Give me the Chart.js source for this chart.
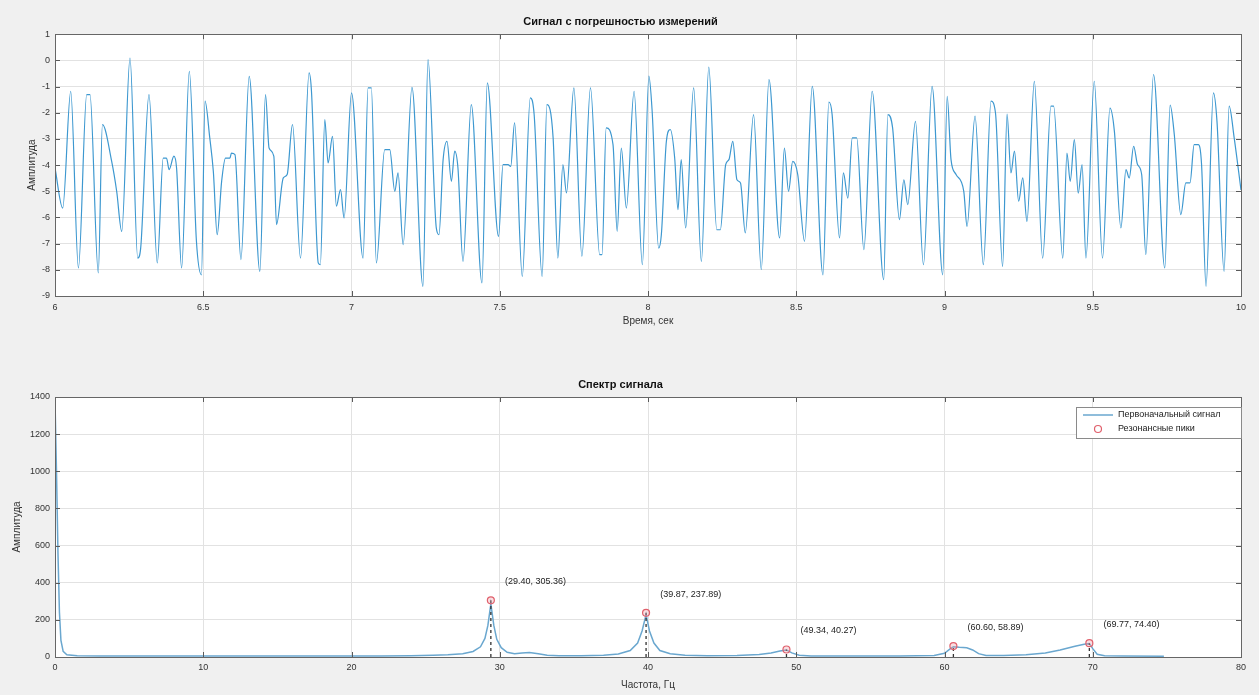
<!DOCTYPE html>
<html><head><meta charset="utf-8">
<script src="https://cdn.jsdelivr.net/npm/chart.js@4.4.1/dist/chart.umd.min.js"></script>
<style>
html,body{margin:0;padding:0;background:#f0f0f0;width:1259px;height:695px;overflow:hidden;}
#c1{position:absolute;left:0;top:0;}
#c2{position:absolute;left:0;top:350px;}
</style></head><body>
<canvas id="c1" width="1259" height="340"></canvas>
<canvas id="c2" width="1259" height="345"></canvas>
<script>
// ---------- data: time signal ----------
const timeSec = [
6.000,6.026,6.053,6.079,6.107,6.118,6.146,6.160,6.191,6.208,6.225,6.253,6.279,6.289,6.317,6.345,6.365,6.376,6.385,6.401,6.410,6.427,6.453,6.477,6.494,6.506,6.522,6.534,6.547,6.562,6.575,6.590,6.595,6.607,6.627,6.655,6.691,6.710,6.722,6.738,6.747,6.770,6.783,6.801,6.828,6.857,6.865,6.888,6.895,6.910,6.921,6.936,6.949,6.963,6.975,
7.000,7.039,7.056,7.067,7.084,7.112,7.129,7.146,7.157,7.174,7.204,7.241,7.258,7.286,7.295,7.309,7.322,7.337,7.348,7.359,7.376,7.404,7.440,7.458,7.496,7.511,7.528,7.537,7.550,7.576,7.603,7.616,7.643,7.659,7.680,7.696,7.713,7.725,7.750,7.777,7.806,7.837,7.845,7.859,7.882,7.896,7.910,7.927,7.953,7.981,
8.003,8.014,8.036,8.045,8.062,8.075,8.090,8.101,8.112,8.127,8.154,8.180,8.205,8.232,8.244,8.262,8.273,8.286,8.300,8.312,8.328,8.356,8.382,8.408,8.444,8.460,8.474,8.488,8.505,8.528,8.554,8.590,8.610,8.621,8.646,8.659,8.674,8.689,8.704,8.728,8.756,8.795,8.809,8.825,8.848,8.863,8.876,8.902,8.929,8.958,8.994,
9.009,9.022,9.039,9.065,9.076,9.103,9.131,9.157,9.172,9.196,9.211,9.224,9.236,9.250,9.264,9.278,9.303,9.331,9.359,9.368,9.399,9.413,9.424,9.438,9.451,9.464,9.477,9.505,9.533,9.558,9.573,9.595,9.612,9.623,9.638,9.651,9.665,9.679,9.705,9.743,9.761,9.775,9.797,9.814,9.828,9.842,9.856,9.867,9.882,9.907,9.919,9.943,9.960,9.977,10.000];
const signalAmp = [
-4.11,-5.64,-1.18,-7.93,-1.31,-1.31,-8.12,-2.45,-3.85,-5.00,-6.53,0.09,-7.55,-7.17,-1.31,-7.74,-3.73,-3.73,-4.17,-3.66,-4.11,-7.93,-0.42,-6.91,-8.19,-1.56,-2.96,-4.24,-6.66,-4.62,-3.73,-3.73,-3.54,-3.60,-7.61,-0.61,-8.06,-1.31,-3.35,-3.66,-6.27,-4.49,-4.36,-2.45,-7.55,-0.48,-1.18,-7.74,-7.80,-2.26,-3.92,-2.90,-5.57,-4.94,-6.02,
-1.24,-7.55,-1.05,-1.05,-7.74,-3.41,-3.41,-5.00,-4.30,-7.04,-1.03,-8.63,0.03,-6.40,-6.66,-3.79,-3.09,-4.62,-3.47,-4.11,-7.68,-1.69,-8.50,-0.86,-6.72,-3.98,-3.98,-4.05,-2.39,-8.25,-1.43,-2.07,-8.25,-1.69,-2.96,-7.55,-3.98,-5.06,-1.05,-7.48,-1.05,-7.42,-7.42,-2.58,-3.22,-6.53,-3.35,-5.64,-1.18,-7.80,
-0.60,-1.94,-7.17,-6.66,-3.09,-2.64,-3.73,-5.70,-3.79,-6.40,-1.05,-7.68,-0.26,-6.47,-6.47,-3.98,-3.79,-3.09,-4.56,-4.68,-6.59,-2.07,-7.99,-0.73,-6.78,-3.35,-5.00,-3.86,-4.36,-6.91,-0.99,-8.19,-1.59,-2.07,-6.78,-4.30,-5.26,-2.96,-2.96,-7.23,-1.18,-8.38,-2.07,-2.58,-6.08,-4.56,-5.51,-2.33,-7.80,-0.99,-8.19,
-1.37,-3.79,-4.36,-5.00,-6.34,-2.13,-7.80,-1.56,-2.01,-7.87,-2.05,-4.30,-3.47,-5.38,-4.49,-6.15,-0.80,-7.55,-1.75,-1.75,-7.55,-3.54,-4.62,-3.03,-5.07,-3.98,-7.55,-0.80,-7.55,-1.82,-2.71,-6.40,-4.17,-4.49,-3.28,-3.98,-4.36,-7.42,-0.54,-7.93,-1.71,-2.83,-5.89,-4.68,-4.68,-3.22,-3.22,-3.98,-8.63,-1.24,-2.33,-8.06,-1.75,-2.96,-4.95];

// ---------- data: spectrum ----------
const specFreq = [0,0.1,0.2,0.3,0.4,0.55,0.8,1.5,3,5,8,10,13,16,19,22,24,25.5,26.5,27.5,28.2,28.7,29.0,29.2,29.4,29.6,29.8,30.1,30.5,31.0,31.5,32.0,32.6,33.2,34,35.5,37,38,38.8,39.3,39.6,39.87,40.1,40.4,40.8,41.5,42.5,44,46,47.5,48.3,48.9,49.34,49.7,50.2,51,54,57,59.3,60.0,60.4,60.6,61.0,61.5,61.9,62.3,62.8,64,65.5,66.8,67.8,68.8,69.5,69.77,70.0,70.3,70.8,72,74.8];
const specAmp  = [1380,1000,560,240,90,30,12,7,5,6,5,5,6,5,6,6,7,9,12,18,30,55,100,170,285,170,95,50,25,18,22,24,18,10,7,7,10,16,35,75,140,228,140,75,35,18,10,7,8,14,22,32,38,22,10,6,5,6,8,20,45,55,52,50,38,18,8,8,12,22,38,58,70,72,45,15,7,5,4];
const peakFreq = [29.40,39.87,49.34,60.60,69.77];
const peakAmp  = [305.36,237.89,40.27,58.89,74.40];

const seriesNames = ['Первоначальный сигнал','Резонансные пики'];
const FONT = "'Liberation Sans', Arial, Helvetica, sans-serif";
const TXT = '#333';

// ---------- plugins ----------
const frame = {
  id:'frame',
  beforeDraw(chart){
    const {ctx, chartArea:a} = chart;
    ctx.save(); ctx.fillStyle='#ffffff';
    ctx.fillRect(a.left,a.top,a.right-a.left,a.bottom-a.top); ctx.restore();
  },
  afterDraw(chart){
    const {ctx, chartArea:a, scales} = chart;
    ctx.save();
    ctx.strokeStyle='#5a5a5a'; ctx.lineWidth=1;
    ctx.beginPath();
    scales.x.ticks.forEach(t=>{
      const px = Math.round(scales.x.getPixelForValue(t.value))+0.5;
      ctx.moveTo(px,a.bottom); ctx.lineTo(px,a.bottom-5);
      ctx.moveTo(px,a.top); ctx.lineTo(px,a.top+5);
    });
    scales.y.ticks.forEach(t=>{
      const py = Math.round(scales.y.getPixelForValue(t.value))+0.5;
      ctx.moveTo(a.left,py); ctx.lineTo(a.left+5,py);
      ctx.moveTo(a.right,py); ctx.lineTo(a.right-5,py);
    });
    ctx.stroke();
    ctx.strokeStyle='#666'; ctx.lineWidth=1;
    ctx.strokeRect(Math.round(a.left)+0.5,Math.round(a.top)+0.5,Math.round(a.right-a.left),Math.round(a.bottom-a.top));
    ctx.restore();
  }
};

const peakLabels = {
  id:'peakLabels',
  afterDatasetsDraw(chart){
    const {ctx, scales:{x,y}} = chart;
    ctx.save();
    ctx.font = '9px '+FONT; ctx.fillStyle='#222';
    ctx.textAlign='left'; ctx.textBaseline='middle';
    peakFreq.forEach((f,i)=>{
      const a = peakAmp[i];
      ctx.fillText('('+f.toFixed(2)+', '+a.toFixed(2)+')', x.getPixelForValue(f+0.95), y.getPixelForValue(a+100));
    });
    ctx.restore();
  }
};

const boxLegend = {
  id:'boxLegend',
  afterDraw(chart){
    const {ctx, chartArea:a} = chart;
    const w=165, h=31, r=a.right, t=a.top+10, l=r-w;
    ctx.save();
    ctx.fillStyle='#fff'; ctx.fillRect(l,t,w,h);
    ctx.strokeStyle='#8a8a8a'; ctx.lineWidth=1;
    ctx.strokeRect(Math.round(l)+0.5,Math.round(t)+0.5,w,h);
    const ds = chart.data.datasets;
    const spec = ds.find(d=>d.label===seriesNames[0]);
    const pk = ds.find(d=>d.label===seriesNames[1]);
    // line sample
    ctx.strokeStyle=spec.borderColor; ctx.lineWidth=1.5;
    ctx.beginPath(); ctx.moveTo(l+7,t+8); ctx.lineTo(l+37,t+8); ctx.stroke();
    // marker sample
    ctx.strokeStyle=pk.pointBorderColor; ctx.lineWidth=1.2;
    ctx.beginPath(); ctx.arc(l+22,t+22,3.5,0,Math.PI*2); ctx.stroke();
    ctx.font='9px '+FONT; ctx.fillStyle='#222'; ctx.textBaseline='middle'; ctx.textAlign='left';
    ctx.fillText(spec.label,l+42,t+8);
    ctx.fillText(pk.label,l+42,t+22);
    ctx.restore();
  }
};

const tickFont = {family:FONT,size:9};
const titleFont = {family:FONT,size:11,weight:'bold'};
const axTitleFont = {family:FONT,size:10};
const gridCfg = {color:'#e2e2e2', drawTicks:false};

// ---------- top chart ----------
new Chart(document.getElementById('c1'),{
  type:'line',
  data:{datasets:[{
    label:'Сигнал',
    data: timeSec.map((t,i)=>({x:t,y:signalAmp[i]})),
    borderColor:'#3d98d0', borderWidth:1.2, pointRadius:0,
    cubicInterpolationMode:'monotone', fill:false
  }]},
  options:{
    responsive:false, devicePixelRatio:1, animation:false,
    layout:{padding:{left:0,right:18,top:0,bottom:0}},
    plugins:{
      legend:{display:false}, tooltip:{enabled:false},
      title:{display:true,text:'Сигнал с погрешностью измерений',font:titleFont,color:'#111',padding:{top:15,bottom:6}}
    },
    scales:{
      x:{type:'linear',min:6,max:10,
         ticks:{stepSize:0.5,font:tickFont,color:TXT,padding:6,maxRotation:0,callback:v=>String(+(+v).toFixed(2))},
         grid:gridCfg, border:{display:false},
         title:{display:true,text:'Время, сек',font:axTitleFont,color:TXT,padding:{top:0,bottom:13}},
         afterFit:s=>{s.height=44;}},
      y:{min:-9,max:1,
         ticks:{stepSize:1,font:tickFont,color:TXT,padding:5,callback:v=>String(v)},
         grid:gridCfg, border:{display:false},
         title:{display:true,text:'Амплитуда',font:axTitleFont,color:TXT,padding:{top:26,bottom:0}},
         afterFit:s=>{s.width=55;}}
    }
  },
  plugins:[frame]
});

// ---------- bottom chart ----------
const stemData = [];
peakFreq.forEach((f,i)=>{ stemData.push({x:f,y:0},{x:f,y:peakAmp[i]},{x:f,y:null}); });

new Chart(document.getElementById('c2'),{
  type:'line',
  data:{datasets:[
    {label:seriesNames[1], data:peakFreq.map((f,i)=>({x:f,y:peakAmp[i]})),
     showLine:false, pointRadius:3.5, pointStyle:'circle', pointBorderColor:'#e0606c',
     pointBackgroundColor:'rgba(240,160,170,0.35)', pointBorderWidth:1.2, borderColor:'#e0606c', order:0},
    {label:'stems', data:stemData, borderColor:'#333', borderWidth:1.3, borderDash:[3,3],
     pointRadius:0, spanGaps:false, order:1},
    {label:seriesNames[0], data:specFreq.map((f,i)=>({x:f,y:specAmp[i]})),
     borderColor:'#6aa7cf', borderWidth:1.5, pointRadius:0, fill:false, order:2}
  ]},
  options:{
    responsive:false, devicePixelRatio:1, animation:false,
    layout:{padding:{left:0,right:18,top:0,bottom:0}},
    plugins:{
      legend:{display:false}, tooltip:{enabled:false},
      title:{display:true,text:'Спектр сигнала',font:titleFont,color:'#111',padding:{top:28,bottom:5.8}}
    },
    scales:{
      x:{type:'linear',min:0,max:80,
         ticks:{stepSize:10,font:tickFont,color:TXT,padding:5.5,maxRotation:0,callback:v=>String(v)},
         grid:gridCfg, border:{display:false},
         title:{display:true,text:'Частота, Гц',font:axTitleFont,color:TXT,padding:{top:0,bottom:4}},
         afterFit:s=>{s.height=38;}},
      y:{min:0,max:1400,
         ticks:{stepSize:200,font:tickFont,color:TXT,padding:5,callback:v=>String(v)},
         grid:gridCfg, border:{display:false},
         title:{display:true,text:'Амплитуда',font:axTitleFont,color:TXT,padding:{top:11,bottom:0}},
         afterFit:s=>{s.width=55;}}
    }
  },
  plugins:[frame,peakLabels,boxLegend]
});
</script></body></html>
